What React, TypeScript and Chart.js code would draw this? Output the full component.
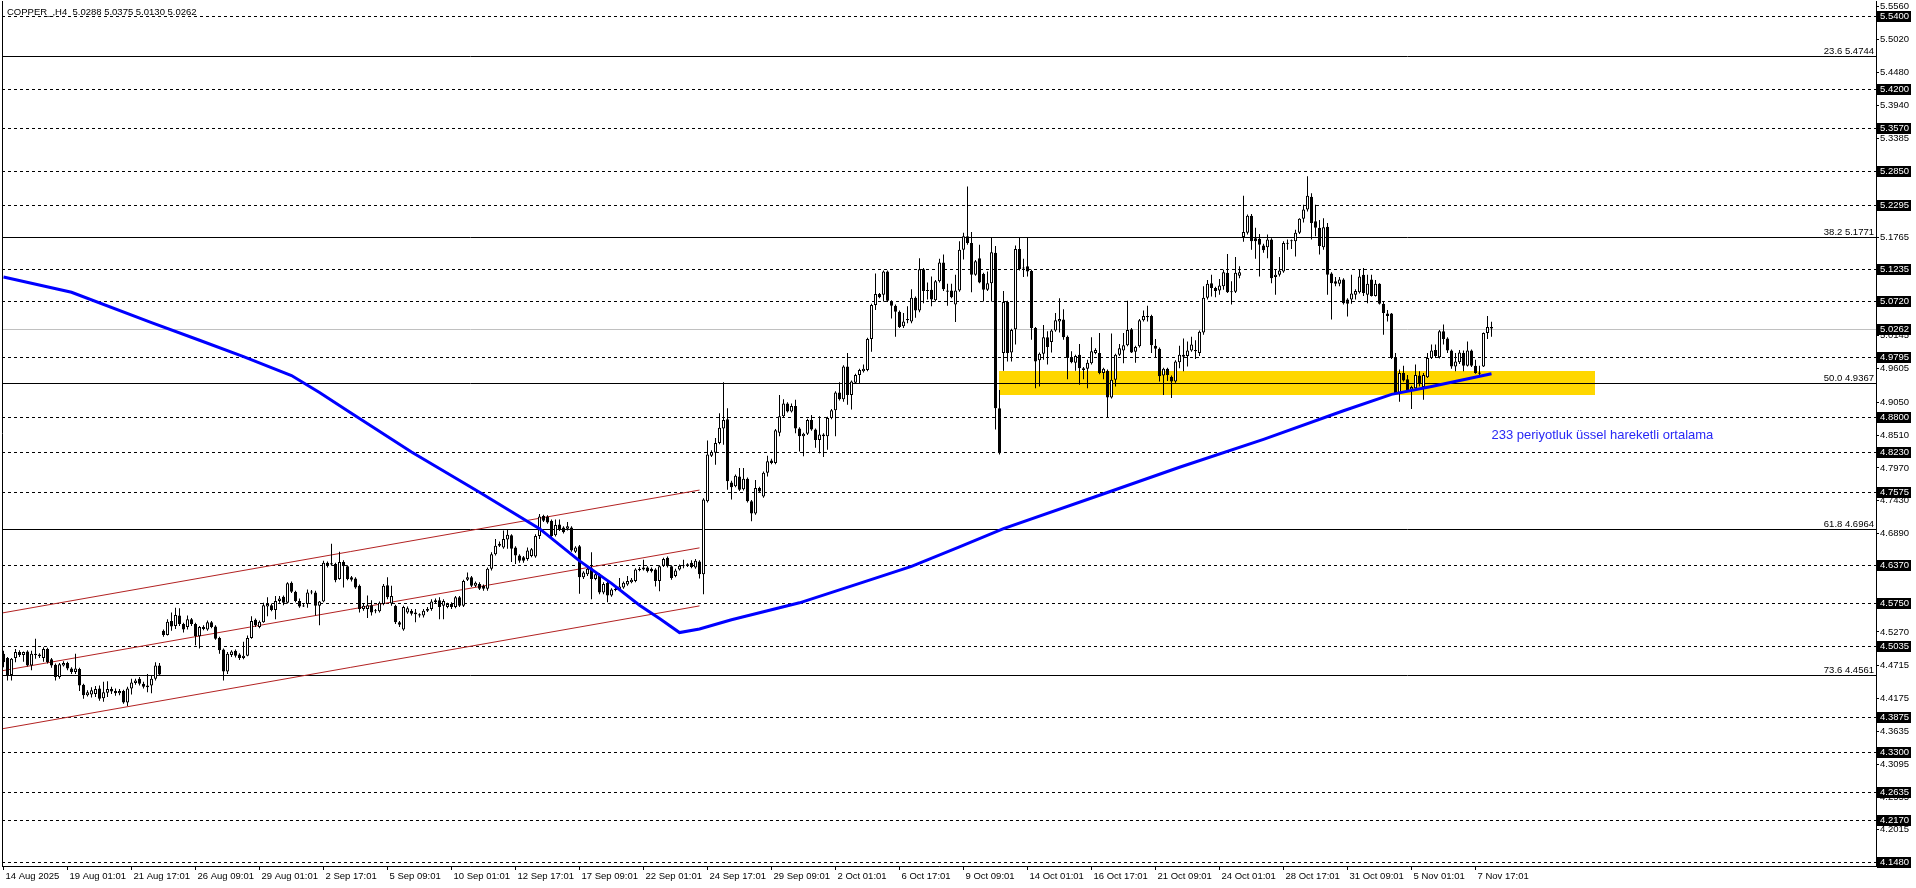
import React, { useEffect, useRef } from "react";
import { Chart, registerables } from "chart.js";

Chart.register(...registerables);

// ---------- OHLC (H4 bars, oldest first) ----------
const opens = [
  4.491,4.484,4.456,4.484,4.494,4.489,4.495,4.472,4.491,4.487,
  4.484,4.499,4.482,4.473,4.453,4.472,4.476,4.467,4.461,4.466,
  4.440,4.423,4.424,4.425,4.434,4.418,4.427,4.433,4.430,4.426,
  4.430,4.411,4.434,4.443,4.450,4.442,4.439,4.439,4.450,4.472,
  4.529,4.522,4.545,4.537,4.554,4.540,4.535,4.548,4.540,4.520,
  4.532,4.531,4.543,4.536,4.517,4.498,4.462,4.489,4.496,4.490,
  4.484,4.488,4.517,4.547,4.535,4.543,4.569,4.571,4.563,4.578,
  4.585,4.575,4.608,4.593,4.578,4.569,4.573,
  4.592,4.592,4.570,4.577,4.641,4.638,4.639,4.614,4.642,4.635,
  4.617,4.615,4.603,4.565,4.565,4.571,4.561,4.561,4.573,4.604,
  4.574,4.570,4.543,4.531,4.559,4.562,4.559,4.556,4.554,4.562,
  4.565,4.576,4.579,4.570,4.568,4.573,4.568,4.584,4.570,4.613,
  4.617,4.603,4.606,4.603,4.598,4.631,4.655,4.672,4.666,4.679,
  4.686,4.666,4.653,4.650,4.647,4.652,4.651,4.685,4.718,4.717,
  4.710,4.686,4.704,4.699,4.697,4.699,4.659,4.668,4.617,4.622,
  4.632,4.614,4.622,4.592,4.608,
  4.587,4.596,4.597,4.600,4.605,4.609,4.611,4.629,4.630,4.633,
  4.631,4.630,4.611,4.636,4.649,4.635,4.619,4.630,4.635,4.637,
  4.641,4.633,4.643,4.622,4.742,4.817,4.822,4.838,4.862,4.877,
  4.773,4.767,4.783,4.762,4.779,4.742,4.722,4.764,4.750,4.789,
  4.809,4.805,4.855,4.882,4.903,4.890,4.899,4.862,4.849,4.853,
  4.876,4.860,4.843,4.852,4.849,4.879,4.892,4.921,4.910,4.964,
  4.917,4.937,4.950,4.956,4.958,5.009,5.065,5.083,5.082,5.120,
  5.071,5.064,5.054,
  5.030,5.040,5.038,5.077,5.056,5.124,5.088,5.090,5.073,5.104,
  5.135,5.089,5.089,5.066,5.089,5.156,5.178,5.167,5.115,5.142,
  5.116,5.090,5.101,5.151,4.895,4.986,5.070,4.987,5.025,5.157,
  5.126,5.129,5.121,5.027,4.974,4.985,5.012,5.004,5.023,5.038,
  5.041,5.013,4.978,4.970,4.983,4.961,4.960,4.969,4.986,4.986,
  4.953,4.957,4.913,4.942,4.983,4.990,4.999,5.025,4.988,4.997,
  5.040,5.045,5.047,4.998,4.993,4.949,4.960,4.947,4.939,4.971,
  4.980,4.981,4.990,4.989,4.986,5.020,5.077,
  5.101,5.093,5.089,5.096,5.118,5.086,5.087,5.113,5.177,5.184,
  5.212,5.175,5.174,5.163,5.160,5.173,5.111,5.115,5.120,5.166,
  5.170,5.170,5.184,5.207,5.222,5.243,5.203,5.192,5.160,5.194,
  5.117,5.104,5.100,5.107,5.074,5.074,5.082,5.086,5.115,5.082,
  5.107,5.080,5.100,5.067,5.051,5.051,4.979,4.919,4.953,4.943,
  4.926,4.928,4.949,4.930,4.946,4.978,4.991,4.979,5.022,5.010,
  4.990,4.964,4.971,4.986,4.965,4.990,4.965,4.952,4.964,5.019,
  5.0288,
];

const highs = [
  4.496,4.486,4.484,4.499,4.497,4.495,4.497,4.496,4.516,4.492,
  4.502,4.501,4.484,4.475,4.476,4.479,4.478,4.469,4.491,4.468,
  4.442,4.431,4.436,4.438,4.439,4.445,4.446,4.437,4.434,4.433,
  4.432,4.437,4.450,4.450,4.453,4.445,4.458,4.456,4.477,4.476,
  4.531,4.548,4.559,4.567,4.566,4.542,4.554,4.550,4.542,4.537,
  4.538,4.546,4.545,4.538,4.519,4.500,4.494,4.497,4.498,4.492,
  4.511,4.521,4.553,4.549,4.546,4.575,4.584,4.574,4.586,4.586,
  4.587,4.609,4.610,4.595,4.582,4.574,4.597,
  4.596,4.595,4.578,4.644,4.643,4.672,4.641,4.659,4.645,4.637,
  4.619,4.617,4.605,4.573,4.587,4.579,4.565,4.577,4.606,4.617,
  4.603,4.572,4.545,4.570,4.569,4.565,4.565,4.558,4.565,4.568,
  4.581,4.582,4.584,4.581,4.575,4.576,4.586,4.586,4.613,4.625,
  4.619,4.610,4.609,4.605,4.633,4.658,4.680,4.676,4.694,4.696,
  4.688,4.668,4.655,4.652,4.666,4.665,4.688,4.721,4.720,4.719,
  4.712,4.712,4.712,4.701,4.708,4.701,4.668,4.670,4.627,4.633,
  4.658,4.625,4.624,4.609,4.610,
  4.599,4.601,4.616,4.610,4.619,4.616,4.632,4.634,4.646,4.635,
  4.633,4.632,4.637,4.649,4.651,4.637,4.631,4.638,4.646,4.640,
  4.645,4.647,4.645,4.747,4.842,4.826,4.846,4.887,4.938,4.895,
  4.776,4.786,4.797,4.797,4.781,4.744,4.777,4.766,4.791,4.817,
  4.812,4.861,4.917,4.910,4.905,4.903,4.909,4.864,4.855,4.878,
  4.884,4.862,4.882,4.854,4.881,4.894,4.923,4.938,4.966,4.986,
  4.941,4.952,4.960,4.967,5.011,5.067,5.117,5.085,5.122,5.122,
  5.073,5.066,5.056,
  5.052,5.063,5.091,5.079,5.142,5.126,5.102,5.112,5.106,5.141,
  5.148,5.100,5.100,5.115,5.170,5.184,5.260,5.185,5.139,5.164,
  5.118,5.120,5.177,5.162,4.925,5.088,5.072,5.026,5.163,5.177,
  5.141,5.177,5.123,5.029,4.987,5.032,5.022,5.025,5.052,5.076,
  5.058,5.015,4.989,4.983,5.001,4.963,4.975,5.012,4.994,5.019,
  4.962,4.959,5.018,4.985,5.001,5.019,5.072,5.027,4.998,5.042,
  5.056,5.064,5.049,5.009,4.995,4.962,4.962,4.949,4.974,4.998,
  5.010,5.005,5.013,5.007,5.023,5.096,5.106,
  5.115,5.095,5.108,5.123,5.149,5.104,5.144,5.129,5.245,5.214,
  5.215,5.192,5.182,5.166,5.181,5.175,5.124,5.144,5.170,5.173,
  5.173,5.189,5.208,5.230,5.277,5.249,5.230,5.205,5.208,5.200,
  5.119,5.111,5.111,5.109,5.076,5.115,5.091,5.124,5.126,5.115,
  5.115,5.106,5.101,5.071,5.057,5.052,4.986,4.959,4.965,4.950,
  4.932,4.967,4.956,4.953,4.986,5.000,5.000,5.024,5.033,5.012,
  4.992,4.986,4.991,4.990,5.005,4.992,4.975,4.965,5.020,5.047,
  5.0375,
];

const lows = [
  4.469,4.447,4.447,4.477,4.486,4.478,4.470,4.464,4.483,4.484,
  4.478,4.475,4.468,4.447,4.450,4.470,4.464,4.458,4.458,4.430,
  4.417,4.421,4.419,4.420,4.414,4.412,4.420,4.425,4.422,4.423,
  4.409,4.405,4.424,4.440,4.439,4.434,4.428,4.426,4.447,4.456,
  4.519,4.521,4.529,4.532,4.537,4.526,4.531,4.537,4.505,4.500,
  4.530,4.529,4.533,4.514,4.491,4.447,4.458,4.486,4.485,4.481,
  4.482,4.487,4.516,4.535,4.533,4.542,4.553,4.561,4.548,4.575,
  4.571,4.574,4.591,4.576,4.567,4.568,4.567,
  4.589,4.554,4.538,4.576,4.633,4.636,4.609,4.613,4.600,4.612,
  4.610,4.598,4.559,4.562,4.550,4.554,4.558,4.559,4.571,4.581,
  4.570,4.540,4.535,4.529,4.557,4.554,4.543,4.551,4.551,4.560,
  4.562,4.574,4.548,4.548,4.566,4.565,4.566,4.568,4.568,4.611,
  4.601,4.601,4.596,4.595,4.595,4.628,4.653,4.667,4.664,4.664,
  4.642,4.639,4.641,4.641,4.644,4.650,4.649,4.680,4.708,4.705,
  4.683,4.684,4.693,4.689,4.694,4.659,4.657,4.590,4.614,4.619,
  4.581,4.612,4.589,4.589,4.576,
  4.585,4.594,4.595,4.598,4.603,4.607,4.609,4.627,4.628,4.625,
  4.625,4.602,4.594,4.634,4.633,4.613,4.617,4.628,4.632,4.634,
  4.632,4.631,4.615,4.589,4.740,4.815,4.802,4.836,4.835,4.761,
  4.745,4.765,4.759,4.760,4.740,4.709,4.720,4.756,4.748,4.783,
  4.803,4.803,4.849,4.880,4.888,4.888,4.854,4.824,4.816,4.851,
  4.858,4.830,4.821,4.815,4.827,4.877,4.849,4.908,4.906,4.901,
  4.893,4.935,4.935,4.954,4.956,4.988,5.057,5.076,5.071,5.070,
  5.043,5.013,5.027,
  5.027,5.035,5.035,5.044,5.053,5.068,5.074,5.063,5.071,5.102,
  5.088,5.064,5.076,5.037,5.087,5.140,5.164,5.086,5.113,5.101,
  5.071,5.088,5.071,4.860,4.819,4.957,4.972,4.972,5.000,5.122,
  5.111,5.112,5.008,4.928,4.931,4.975,4.967,4.987,5.021,5.020,
  5.008,4.943,4.969,4.957,4.934,4.943,4.928,4.967,4.984,4.951,
  4.943,4.879,4.911,4.931,4.981,4.969,4.997,4.986,4.970,4.995,
  5.038,5.038,4.986,4.978,4.939,4.917,4.940,4.912,4.937,4.961,
  4.956,4.964,4.988,4.976,4.981,5.016,5.074,
  5.079,5.078,5.082,5.090,5.085,5.066,5.085,5.109,5.169,5.181,
  5.156,5.141,5.112,5.151,5.142,5.101,5.082,5.112,5.118,5.156,
  5.157,5.145,5.182,5.201,5.219,5.173,5.178,5.148,5.156,5.082,
  5.041,5.096,5.096,5.066,5.046,5.067,5.074,5.084,5.080,5.068,
  5.079,5.079,5.066,5.016,5.038,4.976,4.919,4.906,4.939,4.923,
  4.894,4.925,4.931,4.909,4.945,4.976,4.978,4.977,5.000,4.986,
  4.960,4.956,4.968,4.956,4.964,4.963,4.952,4.950,4.963,5.009,
  5.0130,
];

const closes = [
  4.477,4.456,4.483,4.494,4.489,4.494,4.472,4.491,4.489,4.490,
  4.499,4.477,4.472,4.453,4.474,4.476,4.467,4.461,4.467,4.439,
  4.423,4.428,4.431,4.433,4.417,4.428,4.433,4.429,4.426,4.430,
  4.411,4.434,4.444,4.447,4.442,4.437,4.436,4.450,4.472,4.457,
  4.522,4.544,4.536,4.555,4.540,4.531,4.548,4.540,4.520,4.535,
  4.535,4.543,4.535,4.516,4.497,4.462,4.491,4.495,4.488,4.484,
  4.488,4.517,4.545,4.538,4.544,4.571,4.573,4.563,4.578,4.582,
  4.575,4.607,4.593,4.578,4.569,4.570,4.592,
  4.593,4.570,4.577,4.641,4.636,4.640,4.612,4.642,4.635,4.614,
  4.613,4.600,4.565,4.570,4.571,4.559,4.562,4.575,4.603,4.584,
  4.586,4.543,4.539,4.568,4.566,4.557,4.556,4.554,4.562,4.565,
  4.577,4.579,4.568,4.578,4.573,4.568,4.584,4.570,4.611,4.617,
  4.603,4.608,4.598,4.598,4.631,4.655,4.669,4.669,4.680,4.687,
  4.664,4.653,4.644,4.644,4.661,4.663,4.685,4.717,4.710,4.707,
  4.685,4.703,4.696,4.691,4.701,4.661,4.666,4.617,4.625,4.631,
  4.614,4.622,4.592,4.606,4.587,
  4.597,4.598,4.602,4.608,4.611,4.613,4.630,4.631,4.633,4.627,
  4.627,4.611,4.635,4.647,4.635,4.616,4.628,4.636,4.636,4.638,
  4.634,4.644,4.622,4.745,4.819,4.823,4.838,4.863,4.876,4.775,
  4.765,4.784,4.761,4.779,4.742,4.722,4.764,4.758,4.789,4.808,
  4.805,4.859,4.882,4.903,4.890,4.899,4.862,4.849,4.853,4.876,
  4.860,4.843,4.852,4.849,4.879,4.892,4.921,4.910,4.964,4.917,
  4.939,4.950,4.958,4.960,5.009,5.065,5.083,5.078,5.120,5.072,
  5.064,5.054,5.029,
  5.038,5.042,5.077,5.056,5.124,5.088,5.089,5.074,5.104,5.135,
  5.091,5.087,5.078,5.089,5.156,5.178,5.167,5.115,5.137,5.102,
  5.090,5.101,5.152,4.895,4.821,5.070,4.986,5.024,5.157,5.124,
  5.125,5.120,5.027,4.972,4.985,5.012,4.996,5.023,5.040,5.042,
  5.012,4.978,4.971,4.981,4.961,4.958,4.970,4.989,4.991,4.953,
  4.960,4.913,4.942,4.983,4.994,4.999,5.024,4.987,4.996,5.040,
  5.047,5.047,4.999,4.993,4.948,4.960,4.950,4.939,4.972,4.983,
  4.983,4.990,5.000,4.991,5.021,5.077,5.100,
  5.093,5.088,5.097,5.119,5.086,5.087,5.118,5.119,5.185,5.212,
  5.170,5.170,5.164,5.155,5.173,5.109,5.115,5.122,5.167,5.167,
  5.171,5.184,5.207,5.222,5.245,5.200,5.192,5.162,5.193,5.115,
  5.101,5.100,5.107,5.068,5.067,5.084,5.088,5.112,5.085,5.100,
  5.080,5.100,5.067,5.052,5.047,4.978,4.920,4.953,4.941,4.925,
  4.930,4.950,4.936,4.950,4.978,4.990,4.981,5.022,5.009,4.990,
  4.964,4.972,4.987,4.965,4.990,4.965,4.953,4.954,5.019,5.029,
  5.0262,
];

// ---------- 233-period EMA (sampled along the drawn line) ----------
const emaBars = [0, 17, 37, 49, 60, 72, 79, 86, 102, 119, 134, 144, 152, 159, 164, 169, 174, 182, 199, 214, 227, 239, 250, 274, 294, 315, 335, 347, 357, 372];
const emaValues = [5.111, 5.086, 5.036, 5.007, 4.980, 4.949, 4.921, 4.891, 4.823, 4.757, 4.697, 4.644, 4.607, 4.571, 4.549, 4.526, 4.532, 4.547, 4.575, 4.607, 4.635, 4.667, 4.697, 4.752, 4.798, 4.844, 4.891, 4.918, 4.931, 4.952];

// ---------- rising channel (three parallel lines) ----------
const channelBars = [-1, 174];
const channelStartValues = [4.5575, 4.4624, 4.3669];
const channelEndValues = [4.7605, 4.6654, 4.5699];

// ---------- support zone ----------
const zoneBars = [248.95, 397.9];
const zonePrices = [4.9566, 4.9164];

// ---------- levels ----------
const dashedLevels = [5.54, 5.42, 5.357, 5.285, 5.2295, 5.1235, 5.072, 4.9795, 4.88, 4.823, 4.7575, 4.637, 4.575, 4.5035, 4.3875, 4.33, 4.2635, 4.217, 4.148];
const fibLevels = [5.4744, 5.1771, 4.9367, 4.6964, 4.4561];
const fibNames = ["23.6", "38.2", "50.0", "61.8", "73.6"];
const lastPrice = 5.0262;

// ---------- axes ----------
const yAxisTicks = [5.556, 5.502, 5.448, 5.394, 5.3385, 5.1765, 5.0145, 4.9605, 4.905, 4.851, 4.797, 4.743, 4.689, 4.527, 4.4715, 4.4175, 4.3635, 4.3095, 4.2555, 4.2015];
const xTickBars = [0, 16, 32, 48, 64, 80, 96, 112, 128, 144, 160, 176, 192, 208, 224, 240, 256, 272, 288, 304, 320, 336, 352, 368];
const xTickLabels = [
  "14 Aug 2025", "19 Aug 01:01", "21 Aug 17:01", "26 Aug 09:01", "29 Aug 01:01", "2 Sep 17:01",
  "5 Sep 09:01", "10 Sep 01:01", "12 Sep 17:01", "17 Sep 09:01", "22 Sep 01:01", "24 Sep 17:01",
  "29 Sep 09:01", "2 Oct 01:01", "6 Oct 17:01", "9 Oct 09:01", "14 Oct 01:01", "16 Oct 17:01",
  "21 Oct 09:01", "24 Oct 01:01", "28 Oct 17:01", "31 Oct 09:01", "5 Nov 01:01", "7 Nov 17:01",
];

const titleText = "COPPER_,H4  5.0288 5.0375 5.0130 5.0262";
const noteText = "233 periyotluk üssel hareketli ortalama";
const noteBar = 372;
const notePrice = 4.85;

const Y_MAX = 5.5653;
const Y_MIN = 4.1419;
const X_MIN = -0.375;
const X_MAX = 468.125;
const FONT = '"Liberation Sans", Arial, sans-serif';

const decorPlugin = {
  id: "mtDecor",
  beforeDraw(chart: any) {
    const ctx = chart.ctx;
    ctx.save();
    ctx.fillStyle = "#ffffff";
    ctx.fillRect(0, 0, chart.width, chart.height);
    ctx.restore();
  },
  beforeDatasetsDraw(chart: any) {
    const { ctx, chartArea: a, scales } = chart;
    const x = scales.x, y = scales.y;
    ctx.save();
    ctx.beginPath();
    ctx.rect(a.left, a.top, a.right - a.left, a.bottom - a.top);
    ctx.clip();
    // yellow zone
    const zx1 = x.getPixelForValue(zoneBars[0]);
    const zx2 = x.getPixelForValue(zoneBars[1]);
    const zy1 = y.getPixelForValue(zonePrices[0]);
    const zy2 = y.getPixelForValue(zonePrices[1]);
    ctx.fillStyle = "#FFD700";
    ctx.fillRect(Math.round(zx1), Math.round(zy1), Math.round(zx2 - zx1), Math.round(zy2 - zy1));
    // last price
    ctx.lineWidth = 1;
    ctx.strokeStyle = "#C0C0C0";
    let py = Math.round(y.getPixelForValue(lastPrice)) + 0.5;
    ctx.beginPath(); ctx.moveTo(a.left, py); ctx.lineTo(a.right, py); ctx.stroke();
    // dashed levels
    ctx.strokeStyle = "#000000";
    ctx.setLineDash([3, 3]);
    for (const v of dashedLevels) {
      py = Math.round(y.getPixelForValue(v)) + 0.5;
      ctx.beginPath(); ctx.moveTo(a.left, py); ctx.lineTo(a.right, py); ctx.stroke();
    }
    ctx.setLineDash([]);
    for (const v of fibLevels) {
      py = Math.round(y.getPixelForValue(v)) + 0.5;
      ctx.beginPath(); ctx.moveTo(a.left, py); ctx.lineTo(a.right, py); ctx.stroke();
    }
    ctx.restore();
  },
  afterDatasetsDraw(chart: any) {
    const { ctx, chartArea: a, scales } = chart;
    const x = scales.x, y = scales.y;
    ctx.save();
    // fib labels
    ctx.fillStyle = "#000000";
    ctx.font = `9.5px ${FONT}`;
    ctx.textAlign = "right";
    ctx.textBaseline = "alphabetic";
    fibLevels.forEach((v, i) => {
      const py = Math.round(y.getPixelForValue(v));
      ctx.fillText(`${fibNames[i]} ${v.toFixed(4)}`, a.right - 2, py - 2);
    });
    // title
    ctx.textAlign = "left";
    ctx.fillText(titleText, 7, 15);
    // note
    ctx.font = `13px ${FONT}`;
    ctx.fillStyle = "#2828F5";
    ctx.textBaseline = "middle";
    ctx.fillText(noteText, x.getPixelForValue(noteBar), y.getPixelForValue(notePrice));
    // left border
    ctx.strokeStyle = "#000000";
    ctx.lineWidth = 1;
    ctx.beginPath();
    ctx.moveTo(a.left + 0.5, a.top);
    ctx.lineTo(a.left + 0.5, a.bottom);
    ctx.stroke();
    ctx.restore();
  },
  afterDraw(chart: any) {
    const { ctx, chartArea: a, scales } = chart;
    const y = scales.y;
    ctx.save();
    ctx.font = `9.5px ${FONT}`;
    ctx.textAlign = "left";
    ctx.textBaseline = "middle";
    const boxes = [...dashedLevels, lastPrice];
    for (const v of boxes) {
      const py = Math.round(y.getPixelForValue(v));
      ctx.fillStyle = "#000000";
      ctx.fillRect(a.right + 1, py - 5, 34, 11);
      ctx.fillStyle = "#ffffff";
      ctx.fillText(v.toFixed(4), a.right + 4, py + 0.5);
    }
    ctx.restore();
  },
};

export default function App() {
  const canvasRef = useRef<HTMLCanvasElement | null>(null);

  useEffect(() => {
    const canvas = canvasRef.current;
    if (!canvas) return;

    const bodyData = opens.map((o, i) => ({ x: i, y: [o, closes[i]] }));
    const bodyColors = opens.map((o, i) => (closes[i] >= o ? "#ffffff" : "#000000"));
    const wickData = lows.map((l, i) => ({ x: i, y: [l, highs[i]] }));
    const emaData = emaBars.map((b, i) => ({ x: b, y: emaValues[i] }));
    const channelSets = channelStartValues.map((s, k) => ({
      type: "line" as const,
      label: `channel${k}`,
      data: [
        { x: channelBars[0], y: s },
        { x: channelBars[1], y: channelEndValues[k] },
      ],
      borderColor: "#B22222",
      borderWidth: 1,
      pointRadius: 0,
      tension: 0,
      fill: false,
      order: 3,
    }));

    const chart = new Chart(canvas, {
      type: "bar",
      data: {
        datasets: [
          {
            type: "line",
            label: "EMA 233",
            data: emaData,
            borderColor: "#0000FF",
            borderWidth: 3,
            pointRadius: 0,
            tension: 0,
            fill: false,
            order: 0,
          } as any,
          {
            type: "bar",
            label: "bodies",
            data: bodyData,
            backgroundColor: bodyColors,
            borderColor: "#000000",
            borderWidth: 1,
            borderSkipped: false,
            inflateAmount: 0,
            barThickness: 3,
            grouped: false,
            minBarLength: 1,
            order: 1,
          } as any,
          {
            type: "bar",
            label: "wicks",
            data: wickData,
            backgroundColor: "#000000",
            borderWidth: 0,
            inflateAmount: 0,
            barThickness: 1,
            grouped: false,
            order: 2,
          } as any,
          ...(channelSets as any[]),
        ],
      },
      options: {
        responsive: false,
        maintainAspectRatio: false,
        devicePixelRatio: 1,
        animation: false,
        events: [],
        layout: { padding: { left: 2, top: 1, right: 0, bottom: 0 } },
        plugins: { legend: { display: false }, tooltip: { enabled: false } },
        scales: {
          x: {
            type: "linear",
            min: X_MIN,
            max: X_MAX,
            offset: false,
            afterBuildTicks: (scale: any) => {
              scale.ticks = xTickBars.map((v) => ({ value: v }));
            },
            afterFit: (scale: any) => {
              scale.height = 22;
              scale.paddingLeft = 0;
              scale.paddingRight = 0;
            },
            grid: { display: true, drawOnChartArea: false, drawTicks: true, tickLength: 4, color: "#000000", offset: false },
            border: { display: true, color: "#000000" },
            ticks: {
              autoSkip: false,
              maxRotation: 0,
              minRotation: 0,
              align: "start",
              labelOffset: 2,
              padding: 1,
              color: "#000000",
              font: { family: FONT, size: 9.5 },
              callback: (v: any) => {
                const k = xTickBars.indexOf(Number(v));
                return k >= 0 ? xTickLabels[k] : "";
              },
            },
          },
          y: {
            type: "linear",
            position: "right",
            min: Y_MIN,
            max: Y_MAX,
            afterBuildTicks: (scale: any) => {
              scale.ticks = yAxisTicks.map((v) => ({ value: v }));
            },
            afterFit: (scale: any) => {
              scale.width = 40;
              scale.paddingTop = 0;
              scale.paddingBottom = 0;
            },
            grid: { display: true, drawOnChartArea: false, drawTicks: true, tickLength: 3, color: "#000000" },
            border: { display: true, color: "#000000" },
            ticks: {
              autoSkip: false,
              padding: 1,
              color: "#000000",
              font: { family: FONT, size: 9.5 },
              callback: (v: any) => Number(v).toFixed(4),
            },
          },
        },
      } as any,
      plugins: [decorPlugin],
    });

    return () => chart.destroy();
  }, []);

  return (
    <div style={{ position: "fixed", left: 0, top: 0, width: 1916, height: 888, background: "#ffffff" }}>
      <canvas ref={canvasRef} width={1916} height={888} style={{ display: "block", width: 1916, height: 888 }} />
    </div>
  );
}
